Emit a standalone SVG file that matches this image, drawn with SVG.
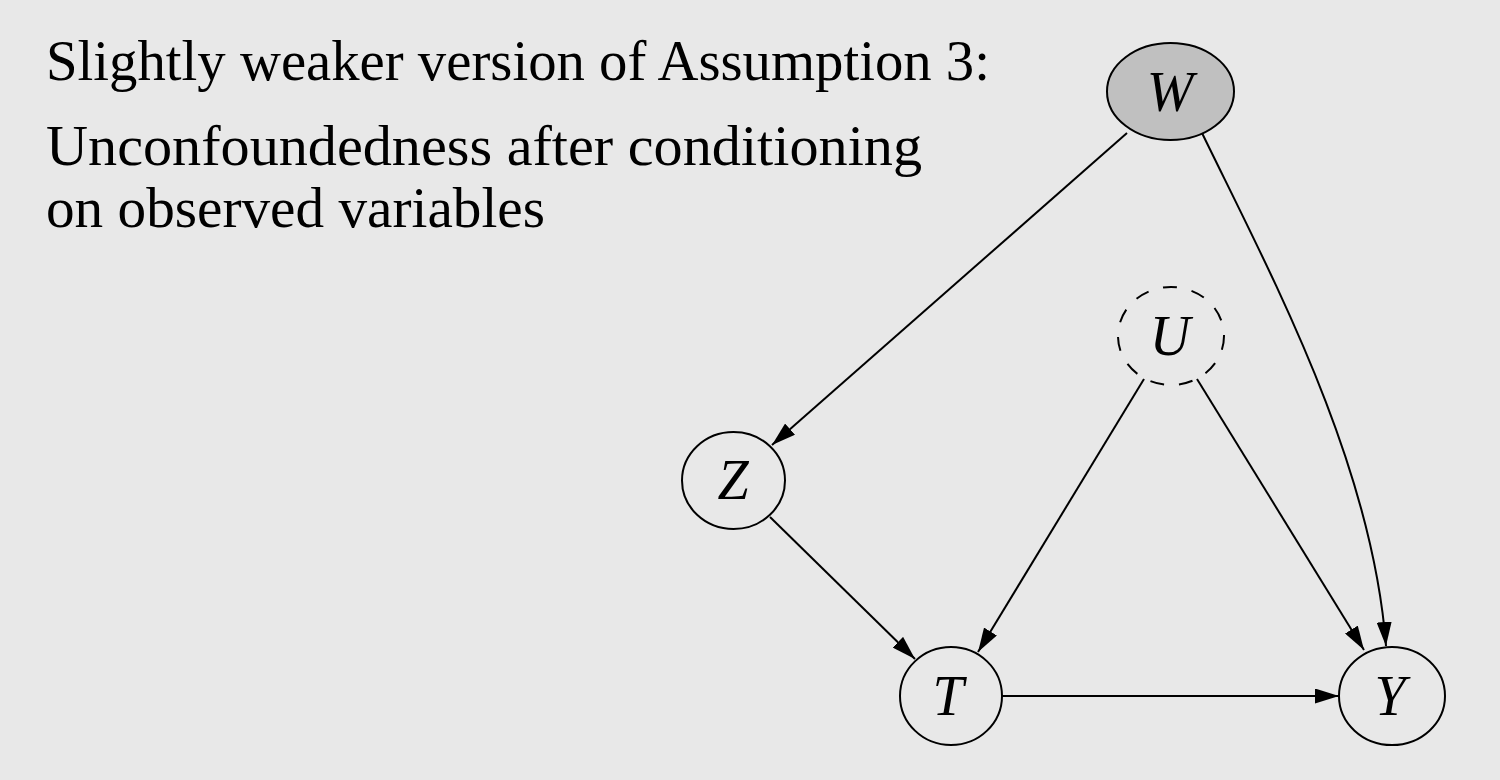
<svg xmlns="http://www.w3.org/2000/svg" width="1500" height="780" viewBox="0 0 1500 780">
  <style>
    .title { font-family: "Liberation Serif", "Times New Roman", serif; font-size: 57px; fill: #000; }
    .node ellipse { stroke: #000; stroke-width: 2; fill: none; }
    .lbl { font-family: "Liberation Serif", "Times New Roman", serif; font-style: italic; font-size: 56px; fill: #000; text-anchor: middle; }
    .edge { stroke: #000; stroke-width: 2; fill: none; marker-end: url(#arrow); }
  </style>
  <defs>
    <marker id="arrow" viewBox="0 0 24 15" refX="24" refY="7.5" markerWidth="24" markerHeight="15" markerUnits="userSpaceOnUse" orient="auto">
      <path d="M0,0 L24,7.5 L0,15 Z" fill="#000"/>
    </marker>
  </defs>
  <rect width="1500" height="780" fill="#e8e8e8"/>

  <g id="caption">
    <text class="title" x="46" y="80" textLength="944" lengthAdjust="spacingAndGlyphs">Slightly weaker version of Assumption 3:</text>
    <text class="title" x="46" y="165" textLength="876" lengthAdjust="spacingAndGlyphs">Unconfoundedness after conditioning</text>
    <text class="title" x="46" y="227" textLength="499" lengthAdjust="spacingAndGlyphs">on observed variables</text>
  </g>

  <g id="connectors">
    <path class="edge" d="M1127,133 L772,445"/>
    <path class="edge" d="M1202,133 C1272,277 1372,462 1386,646"/>
    <path class="edge" d="M1144,379 L978,652"/>
    <path class="edge" d="M1197,379 L1364,650"/>
    <path class="edge" d="M770,517 L915,659"/>
    <path class="edge" d="M1002,696 L1339,696"/>
  </g>

  <g id="node-W" class="node">
    <ellipse cx="1170.5" cy="91.5" rx="63.5" ry="48.5" style="fill:#c0c0c0"/>
    <text class="lbl" x="1170" y="111">W</text>
  </g>
  <g id="node-U" class="node">
    <ellipse cx="1171" cy="336" rx="53" ry="49" stroke-dasharray="14,15"/>
    <text class="lbl" x="1170" y="355">U</text>
  </g>
  <g id="node-Z" class="node">
    <ellipse cx="733.5" cy="480.5" rx="51.5" ry="48.5"/>
    <text class="lbl" x="733" y="499">Z</text>
  </g>
  <g id="node-T" class="node">
    <ellipse cx="951" cy="696" rx="51" ry="49"/>
    <text class="lbl" x="948" y="715">T</text>
  </g>
  <g id="node-Y" class="node">
    <ellipse cx="1392" cy="696" rx="53" ry="49"/>
    <text class="lbl" x="1390" y="715">Y</text>
  </g>
</svg>
